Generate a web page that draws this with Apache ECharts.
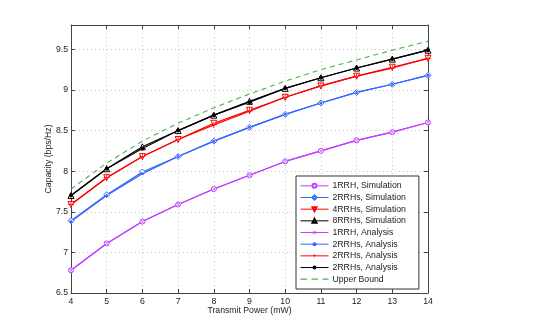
<!DOCTYPE html>
<html>
<head>
<meta charset="utf-8">
<script src="https://cdn.jsdelivr.net/npm/echarts@6/dist/echarts.min.js"></script>
<style>
	html, body { margin: 0; padding: 0; background: #fff; }
	#chart { width: 554px; height: 331px; }
</style>
</head>
<body>
<div id="chart"></div>
<script>
var power = [4, 5, 6, 7, 8, 9, 10, 11, 12, 13, 14];

var sim1 = [6.78, 7.11, 7.38, 7.59, 7.78, 7.95, 8.12, 8.25, 8.38, 8.48, 8.60];
var sim2 = [7.39, 7.71, 7.99, 8.18, 8.37, 8.54, 8.70, 8.84, 8.97, 9.07, 9.18];
var sim4 = [7.59, 7.92, 8.18, 8.39, 8.59, 8.75, 8.91, 9.05, 9.17, 9.28, 9.39];
var sim8 = [7.70, 8.03, 8.30, 8.50, 8.69, 8.86, 9.02, 9.15, 9.27, 9.38, 9.49];

var ana1 = [6.78, 7.11, 7.38, 7.59, 7.78, 7.95, 8.12, 8.25, 8.38, 8.48, 8.60];
var ana2 = [7.38, 7.70, 7.97, 8.18, 8.37, 8.54, 8.70, 8.84, 8.97, 9.07, 9.18];
var ana4 = [7.59, 7.92, 8.18, 8.39, 8.57, 8.74, 8.91, 9.05, 9.17, 9.27, 9.39];
var ana8 = [7.70, 8.03, 8.28, 8.50, 8.69, 8.85, 9.02, 9.15, 9.27, 9.38, 9.49];

var upper = [7.78, 8.10, 8.37, 8.59, 8.78, 8.95, 9.11, 9.25, 9.37, 9.49, 9.60];

var names = [
	"1RRH, Simulation", "2RRHs, Simulation", "4RRHs, Simulation", "8RRHs, Simulation",
	"1RRH, Analysis", "2RRHs, Analysis", "2RRHs, Analysis ", "2RRHs, Analysis  ", "Upper Bound"
];

var PURPLE = "#bf40ff", BLUE = "#3366ff", RED = "#ff0000", BLACK = "#000000", GREEN = "#4cb34c";

var CROSS = "path://M0,1 L1,0 L5,4 L9,0 L10,1 L6,5 L10,9 L9,10 L5,6 L1,10 L0,9 L4,5 Z";
var PLUS = "path://M4.4,0 L5.6,0 L5.6,4.4 L10,4.4 L10,5.6 L5.6,5.6 L5.6,10 L4.4,10 L4.4,5.6 L0,5.6 L0,4.4 L4.4,4.4 Z";
// dashed line for the legend, with tiny corner dots so the box keeps its height
var DASHES = "path://M0,0 L0.01,0 L0,0.01 Z M0,1.9 L6.5,1.9 L6.5,3.1 L0,3.1 Z M11,1.9 L17.5,1.9 L17.5,3.1 L11,3.1 Z M22,1.9 L28,1.9 L28,3.1 L22,3.1 Z M28,5 L27.99,5 L28,4.99 Z";

function pairs(arr) {
	return power.map(function (p, i) {
		return [p, arr[i]];
	});
}

function line(name, arr, color, symbol, size, empty, rotate) {
	return {
		name: name,
		type: "line",
		data: pairs(arr),
		symbol: symbol,
		symbolSize: size,
		symbolRotate: rotate || 0,
		showAllSymbol: true,
		lineStyle: { color: color, width: 1.2 },
		itemStyle: empty ? { color: "#fff", borderColor: color, borderWidth: 1 } : { color: color, borderWidth: 0 },
		emphasis: { disabled: true },
		animation: false
	};
}

var series = [
	line(names[0], sim1, PURPLE, "circle", 5, true),
	line(names[1], sim2, BLUE, "diamond", 6, true),
	line(names[2], sim4, RED, "triangle", 6, true, 180),
	line(names[3], sim8, BLACK, "triangle", 6, true),
	line(names[4], ana1, PURPLE, CROSS, 4, false),
	line(names[5], ana2, BLUE, "circle", 3, false),
	line(names[6], ana4, RED, PLUS, 6, false),
	line(names[7], ana8, BLACK, "circle", 4, false),
	{
		name: names[8],
		type: "line",
		data: pairs(upper),
		symbol: "none",
		lineStyle: { color: GREEN, width: 1.1, type: [5, 4] },
		itemStyle: { color: GREEN },
		emphasis: { disabled: true },
		animation: false
	}
];

var FONT = "Liberation Sans, Arial, sans-serif";
var FS = 8.7;

var chart = echarts.init(document.getElementById("chart"), null, { renderer: "canvas" });
chart.setOption({
	backgroundColor: "#fff",
	animation: false,
	grid: { left: 71, right: 126, top: 25, bottom: 38, show: false },
	xAxis: [{
		type: "value",
		min: 4, max: 14, interval: 1,
		name: "Transmit Power (mW)",
		nameLocation: "middle",
		nameGap: 13,
		nameMoveOverlap: false,
		nameTextStyle: { fontFamily: FONT, fontSize: FS, color: "#222" },
		axisLine: { lineStyle: { color: "#444", width: 1 } },
		axisTick: { inside: true, length: 4, lineStyle: { color: "#444" } },
		axisLabel: { fontFamily: FONT, fontSize: FS, color: "#222", margin: 4 },
		splitLine: { show: true, lineStyle: { color: "#c8c8c8", type: [1, 3] } }
	}, {
		type: "value", position: "top",
		min: 4, max: 14, interval: 1,
		axisLine: { show: true, lineStyle: { color: "#444", width: 1 } },
		axisTick: { inside: true, length: 4, lineStyle: { color: "#444" } },
		axisLabel: { show: false },
		splitLine: { show: false }
	}],
	yAxis: [{
		type: "value",
		min: 6.5, max: 9.8, interval: 0.5,
		name: "Capacity (bps/Hz)",
		nameLocation: "middle",
		nameGap: 18,
		nameMoveOverlap: false,
		nameTextStyle: { fontFamily: FONT, fontSize: FS, color: "#222" },
		axisLine: { show: true, lineStyle: { color: "#444", width: 1 } },
		axisTick: { inside: true, length: 4, lineStyle: { color: "#444" } },
		axisLabel: { fontFamily: FONT, fontSize: FS, color: "#222", margin: 3, showMaxLabel: false },
		splitLine: { show: true, lineStyle: { color: "#c8c8c8", type: [1, 3] } }
	}, {
		type: "value", position: "right",
		min: 6.5, max: 9.8, interval: 0.5,
		axisLine: { show: true, lineStyle: { color: "#444", width: 1 } },
		axisTick: { inside: true, length: 4, lineStyle: { color: "#444" } },
		axisLabel: { show: false },
		splitLine: { show: false }
	}],
	legend: {
		orient: "vertical",
		left: 296,
		top: 176,
		padding: [4, 13, 4, 4],
		itemWidth: 28,
		itemHeight: 5,
		itemGap: 0,
		backgroundColor: "#fff",
		borderColor: "#333",
		borderWidth: 1,
		borderRadius: 0,
		lineStyle: { width: 1 },
		textStyle: { fontFamily: FONT, fontSize: FS, color: "#222", lineHeight: 11.67, padding: [0, 0, 0, -1] },
		data: names.map(function (n, i) {
			return i === 8 ? { name: n, icon: DASHES } : { name: n };
		})
	},
	series: series
});
</script>
</body>
</html>
